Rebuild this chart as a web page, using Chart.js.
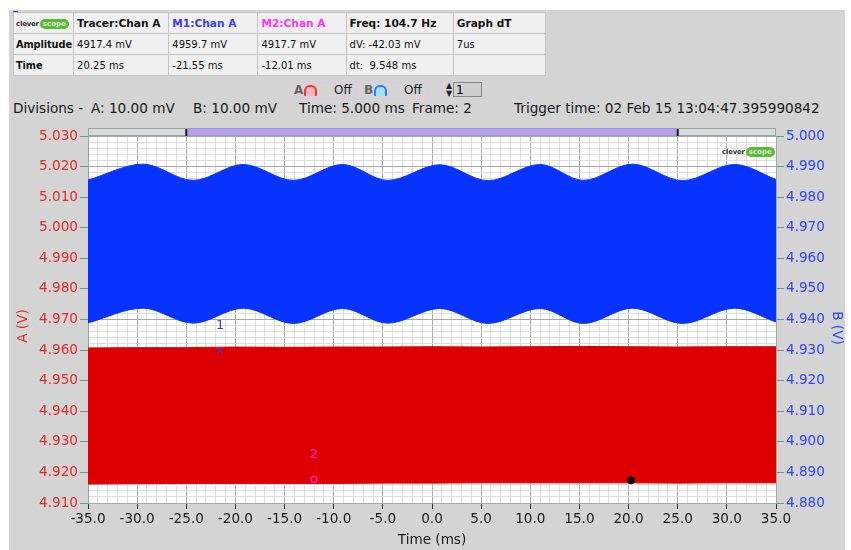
<!DOCTYPE html>
<html>
<head>
<meta charset="utf-8">
<script src="https://cdn.jsdelivr.net/npm/chart.js@4.4.0/dist/chart.umd.min.js"></script>
<style>
  body { margin: 0; width: 851px; height: 550px; background: #fff; position: relative; overflow: hidden; font-family: "DejaVu Sans", sans-serif; }
  #panel { position: absolute; left: 9px; top: 10px; width: 836px; height: 540px; background: #d4d4d4; }
  #info { position: absolute; left: 13px; top: 12px; width: 533px; border-collapse: collapse; background: #f0f0f0; table-layout: fixed; }
  #info td, #info th { border: 1px solid #c4c4c4; height: 20px; padding: 0 3px; font-size: 10px; text-align: left; white-space: nowrap; color: #111; overflow: hidden; }
  #info th { font-size: 10.6px; font-weight: bold; }
  #info th.rl { font-size: 9.8px; padding: 0 1px 0 2px; letter-spacing: -0.1px; }
  .cl { font-size: 7px; font-weight: bold; color: #333; letter-spacing: -0.2px; }
  .sc { display: inline-block; background: #5cb83a; color: #d8f0cc; font-size: 7px; font-weight: bold; border-radius: 6px; padding: 1px 3px; margin-left: 1px; }
  .txt { position: absolute; font-size: 13.6px; color: #1a1a1a; white-space: pre; }
  .box { position: absolute; top: 82px; height: 15px; border: 1px solid #e2c6ea; font-size: 12px; color: #222; }
  .box .lt { position: absolute; left: 2px; top: 0px; font-weight: bold; color: #666; }
  .box .ic { position: absolute; left: 12px; top: 2px; width: 9px; height: 9px; border-radius: 6px 6px 1px 1px; border: 2px solid; border-bottom: none; }
  .box .off { position: absolute; left: 42px; top: 0px; }
  #wrap { position: absolute; left: 0; top: 118px; width: 851px; height: 432px; }
  .ytitle { position: absolute; font-size: 13.6px; white-space: nowrap; }
  #logo2 { position: absolute; left: 722px; top: 139px; }
</style>
</head>
<body>
<div id="panel"></div>
<div style="position:absolute;left:13px;top:11px;width:3px;height:3px;border-left:2px solid #2a3cff;border-top:2px solid #2a3cff;"></div>
<table id="info">
  <col style="width:60px"><col style="width:95px"><col style="width:89px"><col style="width:88px"><col style="width:107px"><col style="width:92px">
  <tr><td style="padding:0 2px"><span class="cl">clever</span><span class="sc">scope</span></td><th>Tracer:Chan A</th><th style="color:#3c3cff">M1:Chan A</th><th style="color:#ff33ee">M2:Chan A</th><th>Freq: 104.7 Hz</th><th>Graph dT</th></tr>
  <tr><th class="rl">Amplitude</th><td>4917.4 mV</td><td>4959.7 mV</td><td>4917.7 mV</td><td>dV: -42.03 mV</td><td>7us</td></tr>
  <tr><th class="rl">Time</th><td>20.25 ms</td><td>-21.55 ms</td><td>-12.01 ms</td><td>dt:&nbsp; 9.548 ms</td><td></td></tr>
</table>

<div class="box" style="left:291px;width:64px"><span class="lt">A</span><span class="ic" style="border-color:#ff3030;background:#f6b8c0"></span><span class="off">Off</span></div>
<div class="box" style="left:361px;width:66px"><span class="lt">B</span><span class="ic" style="border-color:#2f7cff;background:#9fe4f4"></span><span class="off">Off</span></div>
<div style="position:absolute;left:446px;top:82px;font-size:8px;line-height:8px;color:#222">&#9650;<br>&#9660;</div>
<div style="position:absolute;left:453px;top:82px;width:29px;height:15px;border:1px solid #888;background:#cfcfcf;font-size:12px;padding-left:2px;box-sizing:border-box;">1</div>

<div class="txt" style="left:13px;top:100px">Divisions -</div>
<div class="txt" style="left:91px;top:100px">A: 10.00 mV</div>
<div class="txt" style="left:193px;top:100px">B: 10.00 mV</div>
<div class="txt" style="left:299px;top:100px">Time: 5.000 ms</div>
<div class="txt" style="left:412px;top:100px">Frame: 2</div>
<div class="txt" style="left:514px;top:100px">Trigger time: 02 Feb 15 13:04:47.395990842</div>

<div id="wrap"><canvas id="scope" width="851" height="432"></canvas></div>
<div class="ytitle" style="left:2px;top:318px;color:#e22b2b;transform:rotate(-90deg);transform-origin:center;width:40px;text-align:center">A (V)</div>
<div class="ytitle" style="left:818px;top:320px;color:#3344ff;transform:rotate(90deg);transform-origin:center;width:40px;text-align:center">B (V)</div>
<div id="logo2"><span class="cl">clever</span><span class="sc">scope</span></div>

<script>
// axis ranges (volts / ms)
const timeMin = -35, timeMax = 35;
const chanAMin = 4.91, chanAMax = 5.03;
const chanBMin = 4.88, chanBMax = 5.00;
const viewStart = -25, viewEnd = 25;

// channel B (blue) envelope: extremes of the ~100 Hz ripple
const blueTimes  = [-35, -29.4, -24.3, -19.2, -14.1, -9.1, -4.5, 0.8, 5.7, 11.0, 15.4, 20.4, 25.5, 30.8, 35];
const blueTop    = [4.9856, 4.9908, 4.9855, 4.9907, 4.9855, 4.9907, 4.9855, 4.9906, 4.9854, 4.9907, 4.9855, 4.9908, 4.9854, 4.9907, 4.9858];
const blueBottom = [4.9389, 4.9437, 4.9388, 4.9437, 4.9387, 4.9436, 4.9388, 4.9436, 4.9387, 4.9436, 4.9387, 4.9437, 4.9387, 4.9437, 4.9392];

// channel A (red) envelope
const redTimes  = [-35, -30, -25, -20, -15, -10, -5, 0, 5, 10, 15, 20, 25, 30, 35];
const redTop    = [4.9607, 4.9608, 4.9608, 4.9610, 4.9609, 4.9610, 4.9610, 4.9611, 4.9610, 4.9611, 4.9612, 4.9611, 4.9610, 4.9611, 4.9611];
const redBottom = [4.9162, 4.9163, 4.9164, 4.9164, 4.9164, 4.9164, 4.9165, 4.9165, 4.9166, 4.9166, 4.9166, 4.9166, 4.9165, 4.9166, 4.9166];

// markers M1, M2 and the tracer
const markerNames = ['1', '2'];
const markerTimes = [-21.55, -12.01];
const markerAmps  = [4.9597, 4.9177];
const markerColors = ['#3c3cd0', '#ff22cc'];
const tracerTime = 20.25, tracerAmp = 4.9174;

const font = { family: 'DejaVu Sans', size: 13.6 };
const pts = (xs, ys) => xs.map((x, i) => ({ x: x, y: ys[i] }));
const isMajorY = v => Math.round(v * 1000) % 10 === 0;
const isMajorX = v => Math.round(v) % 5 === 0;

const scopePlugin = {
  id: 'scopePlugin',
  beforeDraw(chart) {
    const a = chart.chartArea, ctx = chart.ctx;
    ctx.save();
    ctx.fillStyle = '#ffffff';
    ctx.fillRect(a.left, a.top, a.right - a.left, a.bottom - a.top);
    ctx.restore();
  },
  afterDraw(chart) {
    const a = chart.chartArea, ctx = chart.ctx, x = chart.scales.x;
    ctx.save();
    // view window bar above the plot
    ctx.fillStyle = '#dadada';
    ctx.fillRect(a.left, a.top - 7, a.right - a.left, 7);
    const x1 = x.getPixelForValue(viewStart), x2 = x.getPixelForValue(viewEnd);
    ctx.fillStyle = '#b89ef2';
    ctx.fillRect(x1, a.top - 7, x2 - x1, 7);
    ctx.strokeStyle = '#8fa9a9';
    ctx.lineWidth = 1;
    ctx.strokeRect(a.left + 0.5, a.top - 7.5, a.right - a.left - 1, 7);
    ctx.fillStyle = '#111';
    ctx.fillRect(x1 - 1, a.top - 7, 2, 7);
    ctx.fillRect(x2 - 1, a.top - 7, 2, 7);
    ctx.restore();
  },
  afterDatasetsDraw(chart) {
    const ctx = chart.ctx, x = chart.scales.x, y = chart.scales.yA;
    ctx.save();
    ctx.font = '13px "DejaVu Sans"';
    ctx.textAlign = 'center';
    ctx.textBaseline = 'middle';
    markerNames.forEach((name, i) => {
      ctx.fillStyle = markerColors[i];
      ctx.fillText(name, x.getPixelForValue(markerTimes[i]), y.getPixelForValue(markerAmps[i]) - 25);
    });
    ctx.restore();
  }
};

const ctx = document.getElementById('scope').getContext('2d');
new Chart(ctx, {
  type: 'line',
  data: {
    datasets: [
      { data: pts(blueTimes, blueTop), yAxisID: 'yB', order: 5, borderColor: '#0633ff', backgroundColor: '#0633ff', borderWidth: 1, pointRadius: 0, fill: '+1', cubicInterpolationMode: 'monotone' },
      { data: pts(blueTimes, blueBottom), yAxisID: 'yB', order: 5, borderColor: '#0633ff', borderWidth: 1, pointRadius: 0, fill: false, cubicInterpolationMode: 'monotone' },
      { data: pts(redTimes, redTop), yAxisID: 'yA', order: 5, borderColor: '#dc0000', backgroundColor: '#dc0000', borderWidth: 1, pointRadius: 0, fill: '+1', tension: 0 },
      { data: pts(redTimes, redBottom), yAxisID: 'yA', order: 5, borderColor: '#dc0000', borderWidth: 1, pointRadius: 0, fill: false, tension: 0 },
      { data: [{ x: markerTimes[0], y: markerAmps[0] }], yAxisID: 'yA', order: 0, showLine: false, pointStyle: 'crossRot', pointRadius: 4, pointBorderColor: markerColors[0], pointBorderWidth: 1.2 },
      { data: [{ x: markerTimes[1], y: markerAmps[1] }], yAxisID: 'yA', order: 0, showLine: false, pointStyle: 'circle', pointRadius: 3, pointBorderColor: markerColors[1], pointBackgroundColor: 'rgba(0,0,0,0)', pointBorderWidth: 1.2 },
      { data: [{ x: tracerTime, y: tracerAmp }], yAxisID: 'yA', order: 0, showLine: false, pointStyle: 'circle', pointRadius: 3.5, pointBorderColor: '#000', pointBackgroundColor: '#000' }
    ]
  },
  options: {
    responsive: false,
    animation: false,
    layout: { padding: { top: 18, left: 0, right: 0, bottom: 0 } },
    plugins: { legend: { display: false }, tooltip: { enabled: false } },
    scales: {
      x: {
        type: 'linear', min: timeMin, max: timeMax,
        ticks: {
          stepSize: 1, autoSkip: false, maxRotation: 0, maxTicksLimit: 200,
          color: '#1a1a1a', font: font, padding: 2,
          callback: v => isMajorX(v) ? Number(v).toFixed(1) : ''
        },
        grid: {
          color: c => (c.tick && isMajorX(c.tick.value)) ? '#a8a8a8' : '#dedede',
          tickColor: c => (c.tick && isMajorX(c.tick.value)) ? '#333333' : 'rgba(0,0,0,0)',
          tickLength: 6
        },
        border: { display: false },
        title: { display: true, text: 'Time (ms)', color: '#1a1a1a', font: font, padding: { top: 0, bottom: 1 } },
        afterFit: s => { s.height = 47; }
      },
      yA: {
        position: 'left', min: chanAMin, max: chanAMax,
        ticks: {
          stepSize: 0.002, autoSkip: false, maxTicksLimit: 200,
          color: '#e22b2b', font: font, padding: 2,
          callback: v => isMajorY(v) ? (Math.round(v * 1000) / 1000).toFixed(3) : ''
        },
        grid: {
          color: c => (c.tick && isMajorY(c.tick.value)) ? '#a8a8a8' : '#dedede',
          tickColor: c => (c.tick && isMajorY(c.tick.value)) ? '#6f9494' : 'rgba(0,0,0,0)',
          tickLength: 8
        },
        border: { display: true, color: '#8fa9a9' },
        afterFit: s => { s.width = 88; }
      },
      yB: {
        position: 'right', min: chanBMin, max: chanBMax,
        ticks: {
          stepSize: 0.002, autoSkip: false, maxTicksLimit: 200,
          color: '#3344ff', font: font, padding: 2,
          callback: v => isMajorY(v) ? (Math.round(v * 1000) / 1000).toFixed(3) : ''
        },
        grid: {
          drawOnChartArea: false,
          tickColor: c => (c.tick && isMajorY(c.tick.value)) ? '#6f9494' : 'rgba(0,0,0,0)',
          tickLength: 8
        },
        border: { display: false },
        afterFit: s => { s.width = 75; }
      }
    }
  },
  plugins: [scopePlugin]
});
</script>
</body>
</html>
